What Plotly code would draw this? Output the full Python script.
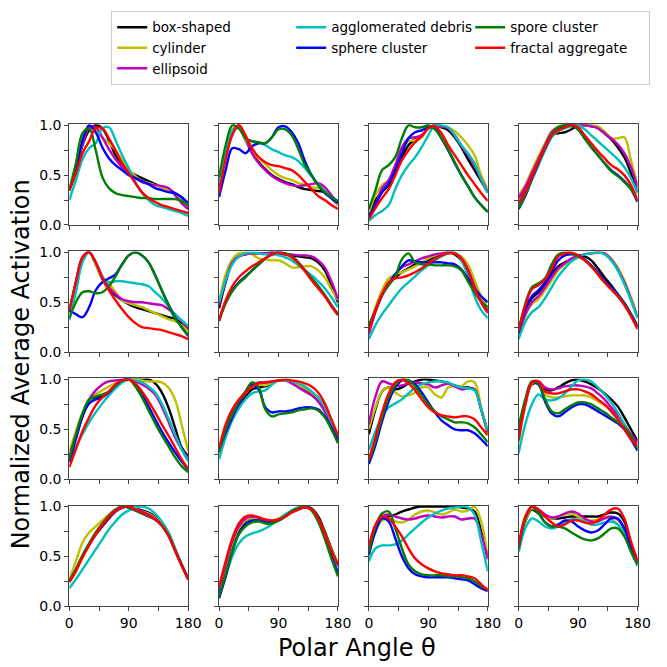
import plotly.graph_objects as go

ANGLES = list(range(0, 181, 10))

SERIES_NAMES = ["box-shaped", "cylinder", "ellipsoid", "agglomerated debris",
                "sphere cluster", "spore cluster", "fractal aggregate"]
SERIES_COLORS = ["#000000", "#bfbf00", "#bf00bf", "#00bfbf", "#0000ff", "#008000", "#ff0000"]
LEGEND_RANK = [1, 4, 7, 2, 5, 3, 6]

X_TICKS = [0, 45, 90, 135, 180]
X_TICK_TEXT = ["0", "", "90", "", "180"]
Y_TICKS = [0, 0.25, 0.5, 0.75, 1.0]
Y_TICK_TEXT = ["0.0", "", "0.5", "", "1.0"]

X_TITLE = "Polar Angle θ"
Y_TITLE = "Normalized Average Activation"

BOX_SHAPED = [
    [0.35,0.55,0.8,0.95,1.0,0.97,0.85,0.7,0.6,0.54,0.5,0.47,0.44,0.41,0.38,0.36,0.32,0.25,0.17],
    [0.38,0.72,0.95,0.99,0.85,0.72,0.63,0.56,0.5,0.46,0.43,0.41,0.38,0.36,0.35,0.34,0.33,0.27,0.2],
    [0.12,0.25,0.33,0.4,0.53,0.68,0.8,0.86,0.9,0.97,1.0,0.98,0.95,0.88,0.78,0.66,0.55,0.44,0.33],
    [0.27,0.37,0.5,0.65,0.79,0.9,0.92,0.93,0.96,1.0,1.0,0.99,0.97,0.92,0.86,0.78,0.68,0.52,0.33],
    [0.4,0.7,0.95,1.0,0.88,0.73,0.63,0.57,0.52,0.48,0.45,0.43,0.41,0.39,0.37,0.35,0.33,0.29,0.23],
    [0.44,0.7,0.9,0.96,0.98,0.99,0.99,0.99,1.0,0.99,0.98,0.97,0.96,0.95,0.94,0.9,0.82,0.67,0.5],
    [0.21,0.42,0.58,0.7,0.75,0.8,0.84,0.88,0.9,0.92,0.96,0.98,1.0,0.98,0.92,0.8,0.64,0.51,0.42],
    [0.18,0.42,0.54,0.6,0.68,0.78,0.86,0.9,0.93,0.97,0.96,0.92,0.84,0.75,0.67,0.58,0.49,0.38,0.26],
    [0.21,0.42,0.63,0.78,0.82,0.84,0.87,0.93,0.98,1.0,1.0,1.0,1.0,0.96,0.87,0.72,0.52,0.32,0.23],
    [0.28,0.48,0.62,0.73,0.83,0.9,0.92,0.93,0.96,0.99,0.99,0.97,0.94,0.9,0.86,0.8,0.7,0.57,0.42],
    [0.45,0.7,0.88,0.92,0.9,0.92,0.96,0.98,1.0,1.0,0.99,0.98,0.96,0.94,0.92,0.92,0.9,0.7,0.46],
    [0.42,0.75,0.95,0.96,0.9,0.89,0.92,0.96,0.99,1.0,0.98,0.95,0.91,0.86,0.8,0.73,0.62,0.5,0.38],
    [0.25,0.36,0.5,0.62,0.72,0.8,0.88,0.95,0.99,1.0,0.98,0.96,0.94,0.9,0.84,0.74,0.58,0.42,0.28],
    [0.15,0.35,0.58,0.75,0.85,0.89,0.88,0.85,0.84,0.86,0.9,0.95,0.98,1.0,0.98,0.9,0.75,0.58,0.42],
    [0.55,0.78,0.88,0.9,0.92,0.95,0.97,0.99,1.0,1.0,1.0,1.0,1.0,1.0,0.99,0.98,0.95,0.75,0.5],
    [0.55,0.85,0.97,0.93,0.9,0.88,0.88,0.89,0.9,0.9,0.9,0.9,0.9,0.92,0.94,0.93,0.85,0.62,0.42],
]

CYLINDER = [
    [0.35,0.55,0.82,0.98,0.95,0.88,0.82,0.75,0.65,0.56,0.49,0.44,0.42,0.4,0.38,0.35,0.31,0.24,0.16],
    [0.4,0.75,0.96,0.98,0.85,0.74,0.67,0.61,0.55,0.5,0.47,0.45,0.42,0.4,0.38,0.37,0.35,0.28,0.2],
    [0.12,0.3,0.4,0.45,0.6,0.75,0.84,0.85,0.88,0.97,1.0,0.99,0.98,0.94,0.88,0.8,0.7,0.5,0.36],
    [0.3,0.4,0.55,0.69,0.82,0.94,0.99,1.0,1.0,1.0,1.0,1.0,0.99,0.94,0.87,0.87,0.88,0.65,0.4],
    [0.4,0.7,0.95,1.0,0.88,0.74,0.69,0.6,0.52,0.49,0.47,0.45,0.42,0.39,0.36,0.33,0.31,0.27,0.21],
    [0.5,0.78,0.93,0.99,1.0,0.98,0.94,0.93,0.92,0.92,0.89,0.85,0.85,0.86,0.86,0.82,0.75,0.63,0.52],
    [0.23,0.45,0.62,0.74,0.78,0.8,0.83,0.86,0.9,0.94,0.97,0.99,1.0,0.99,0.96,0.88,0.72,0.56,0.44],
    [0.16,0.36,0.48,0.53,0.62,0.72,0.82,0.88,0.93,0.96,0.98,0.99,1.0,0.99,0.94,0.85,0.72,0.55,0.36],
    [0.28,0.48,0.66,0.77,0.85,0.89,0.93,0.96,0.98,1.0,1.0,0.99,0.98,0.98,0.97,0.92,0.8,0.55,0.28],
    [0.25,0.47,0.64,0.77,0.86,0.94,0.95,0.94,0.97,0.99,0.99,0.97,0.94,0.91,0.87,0.81,0.72,0.58,0.44],
    [0.5,0.72,0.88,0.92,0.87,0.83,0.84,0.87,0.92,0.92,0.85,0.82,0.92,0.93,0.93,0.98,0.97,0.72,0.44],
    [0.37,0.74,0.96,0.96,0.85,0.82,0.82,0.83,0.84,0.84,0.84,0.82,0.78,0.74,0.7,0.63,0.53,0.43,0.34],
    [0.27,0.45,0.64,0.74,0.8,0.86,0.92,0.97,1.0,0.99,0.97,0.95,0.93,0.89,0.83,0.73,0.58,0.42,0.28],
    [0.17,0.4,0.62,0.78,0.86,0.89,0.88,0.86,0.86,0.88,0.92,0.96,0.99,1.0,0.97,0.88,0.73,0.57,0.43],
    [0.5,0.75,0.86,0.88,0.85,0.84,0.87,0.92,0.95,0.96,0.94,0.92,0.94,0.97,0.95,0.96,1.0,0.85,0.5],
    [0.55,0.85,0.98,0.95,0.9,0.88,0.9,0.92,0.93,0.9,0.87,0.86,0.87,0.9,0.88,0.82,0.75,0.6,0.45],
]

ELLIPSOID = [
    [0.35,0.55,0.82,0.98,0.98,0.88,0.76,0.66,0.58,0.52,0.47,0.43,0.41,0.4,0.39,0.37,0.3,0.22,0.16],
    [0.38,0.7,0.93,1.0,0.88,0.72,0.62,0.55,0.49,0.45,0.42,0.4,0.39,0.4,0.41,0.42,0.38,0.3,0.22],
    [0.06,0.2,0.37,0.45,0.6,0.78,0.87,0.88,0.9,0.97,1.0,0.99,0.97,0.9,0.8,0.7,0.6,0.46,0.33],
    [0.27,0.38,0.52,0.66,0.8,0.93,0.98,1.0,1.0,1.0,1.0,0.99,0.97,0.92,0.87,0.81,0.72,0.58,0.38],
    [0.4,0.7,0.95,1.0,0.9,0.76,0.65,0.58,0.53,0.51,0.5,0.5,0.49,0.48,0.47,0.43,0.38,0.31,0.24],
    [0.47,0.72,0.9,0.96,0.98,0.99,0.99,0.99,1.0,0.99,0.98,0.98,0.97,0.97,0.96,0.92,0.85,0.71,0.53],
    [0.18,0.4,0.57,0.69,0.78,0.85,0.88,0.91,0.94,0.96,0.98,0.99,1.0,0.99,0.94,0.83,0.66,0.5,0.39],
    [0.16,0.38,0.5,0.56,0.65,0.75,0.84,0.89,0.94,0.96,0.98,0.99,1.0,0.99,0.93,0.83,0.7,0.53,0.35],
    [0.23,0.44,0.65,0.8,0.89,0.95,0.98,0.99,1.0,1.0,0.98,0.95,0.91,0.85,0.73,0.58,0.42,0.3,0.21],
    [0.27,0.5,0.66,0.78,0.87,0.94,0.97,0.97,0.98,0.99,0.99,0.96,0.92,0.88,0.84,0.78,0.68,0.55,0.41],
    [0.55,0.83,0.98,0.96,0.94,0.94,0.96,0.97,0.96,0.95,0.92,0.94,0.96,0.93,0.9,0.91,0.9,0.7,0.47],
    [0.42,0.77,0.97,0.98,0.92,0.9,0.91,0.93,0.94,0.94,0.93,0.91,0.86,0.8,0.72,0.64,0.55,0.45,0.36],
    [0.25,0.37,0.5,0.62,0.72,0.81,0.89,0.95,0.99,1.0,0.98,0.95,0.92,0.88,0.82,0.72,0.57,0.42,0.28],
    [0.17,0.42,0.65,0.8,0.88,0.9,0.89,0.86,0.85,0.86,0.9,0.94,0.97,0.99,0.97,0.88,0.72,0.55,0.4],
    [0.55,0.8,0.9,0.92,0.9,0.88,0.87,0.88,0.9,0.91,0.9,0.89,0.9,0.9,0.87,0.88,0.88,0.72,0.47],
    [0.6,0.88,1.0,0.97,0.92,0.89,0.9,0.93,0.95,0.93,0.88,0.85,0.85,0.88,0.9,0.87,0.78,0.62,0.47],
]

AGGLOMERATED_DEBRIS = [
    [0.25,0.45,0.66,0.77,0.82,0.97,0.98,0.85,0.7,0.57,0.43,0.32,0.25,0.2,0.18,0.16,0.14,0.12,0.09],
    [0.42,0.75,0.95,0.97,0.87,0.84,0.83,0.8,0.76,0.73,0.7,0.68,0.64,0.57,0.49,0.41,0.34,0.28,0.24],
    [0.04,0.1,0.14,0.2,0.36,0.5,0.6,0.68,0.78,0.9,1.0,1.0,0.98,0.9,0.8,0.72,0.62,0.46,0.32],
    [0.17,0.3,0.45,0.6,0.75,0.88,0.94,0.97,0.99,1.0,0.96,0.9,0.84,0.78,0.72,0.66,0.58,0.47,0.32],
    [0.32,0.6,0.9,1.0,0.9,0.75,0.7,0.71,0.71,0.7,0.69,0.68,0.66,0.6,0.54,0.46,0.38,0.32,0.26],
    [0.5,0.72,0.88,0.96,0.99,1.0,0.99,0.98,0.98,0.97,0.95,0.92,0.87,0.82,0.77,0.71,0.64,0.55,0.45],
    [0.13,0.27,0.38,0.47,0.56,0.64,0.7,0.76,0.82,0.87,0.92,0.96,0.99,1.0,0.92,0.77,0.56,0.42,0.34],
    [0.13,0.3,0.4,0.45,0.54,0.65,0.76,0.84,0.91,0.95,0.98,0.99,1.0,0.98,0.92,0.82,0.68,0.52,0.34],
    [0.18,0.32,0.45,0.57,0.67,0.76,0.84,0.91,0.97,1.0,0.99,0.97,0.93,0.87,0.76,0.61,0.45,0.3,0.18],
    [0.2,0.42,0.59,0.71,0.8,0.86,0.88,0.89,0.95,0.99,0.99,0.98,0.96,0.93,0.88,0.82,0.73,0.56,0.39],
    [0.29,0.48,0.63,0.72,0.76,0.8,0.86,0.92,0.95,0.97,0.98,0.98,0.97,0.94,0.92,0.91,0.89,0.7,0.49],
    [0.26,0.55,0.75,0.85,0.8,0.79,0.81,0.86,0.93,0.99,1.0,0.98,0.92,0.85,0.77,0.67,0.55,0.42,0.28],
    [0.18,0.27,0.37,0.47,0.57,0.67,0.77,0.85,0.92,0.96,0.99,1.0,0.98,0.93,0.85,0.74,0.58,0.42,0.27],
    [0.1,0.3,0.5,0.63,0.7,0.73,0.75,0.78,0.82,0.87,0.92,0.96,0.99,1.0,0.96,0.85,0.68,0.5,0.35],
    [0.45,0.58,0.61,0.61,0.62,0.66,0.72,0.78,0.84,0.89,0.93,0.96,0.98,0.99,1.0,0.99,0.92,0.65,0.35],
    [0.55,0.78,0.88,0.85,0.8,0.78,0.8,0.84,0.87,0.87,0.85,0.82,0.82,0.84,0.85,0.82,0.72,0.55,0.4],
]

SPHERE_CLUSTER = [
    [0.35,0.55,0.85,1.0,0.93,0.78,0.67,0.6,0.55,0.5,0.47,0.44,0.41,0.37,0.35,0.33,0.32,0.28,0.22],
    [0.28,0.55,0.77,0.76,0.72,0.79,0.82,0.82,0.88,0.98,0.99,0.93,0.82,0.64,0.5,0.4,0.32,0.27,0.22],
    [0.09,0.2,0.33,0.42,0.55,0.72,0.87,0.93,0.95,0.98,0.97,0.87,0.75,0.62,0.5,0.39,0.28,0.2,0.13],
    [0.16,0.29,0.46,0.62,0.77,0.9,0.97,0.99,1.0,0.96,0.87,0.78,0.7,0.62,0.55,0.5,0.44,0.36,0.23],
    [0.42,0.38,0.35,0.45,0.62,0.7,0.74,0.78,0.88,0.97,1.0,0.97,0.9,0.77,0.62,0.48,0.35,0.25,0.16],
    [0.32,0.5,0.62,0.7,0.76,0.82,0.88,0.94,0.98,1.0,0.99,0.96,0.9,0.82,0.74,0.66,0.57,0.47,0.38],
    [0.26,0.42,0.57,0.68,0.78,0.86,0.92,0.91,0.9,0.9,0.9,0.9,0.89,0.88,0.83,0.74,0.64,0.56,0.5],
    [0.19,0.44,0.56,0.62,0.7,0.81,0.92,0.97,0.98,0.97,0.93,0.87,0.8,0.72,0.65,0.58,0.49,0.38,0.26],
    [0.17,0.4,0.63,0.76,0.8,0.82,0.87,0.94,0.99,1.0,0.95,0.85,0.73,0.6,0.48,0.37,0.27,0.18,0.1],
    [0.29,0.47,0.62,0.76,0.87,0.95,0.9,0.72,0.67,0.68,0.68,0.69,0.71,0.72,0.72,0.7,0.63,0.52,0.39],
    [0.15,0.34,0.58,0.78,0.92,0.99,0.99,0.95,0.87,0.77,0.67,0.59,0.54,0.5,0.49,0.49,0.46,0.4,0.33],
    [0.5,0.78,0.97,0.95,0.78,0.66,0.63,0.67,0.72,0.75,0.75,0.72,0.68,0.64,0.6,0.56,0.5,0.4,0.29],
    [0.25,0.36,0.5,0.62,0.73,0.82,0.9,0.96,1.0,0.99,0.96,0.93,0.9,0.87,0.81,0.71,0.56,0.41,0.27],
    [0.08,0.3,0.55,0.73,0.82,0.86,0.86,0.84,0.84,0.86,0.9,0.95,0.98,1.0,0.97,0.87,0.7,0.5,0.33],
    [0.52,0.75,0.88,0.85,0.68,0.5,0.38,0.32,0.3,0.29,0.29,0.29,0.29,0.28,0.27,0.26,0.22,0.18,0.15],
    [0.58,0.88,1.0,0.94,0.84,0.8,0.82,0.86,0.85,0.8,0.76,0.74,0.76,0.82,0.88,0.88,0.78,0.6,0.44],
]

SPORE_CLUSTER = [
    [0.35,0.62,0.92,0.97,0.75,0.48,0.37,0.32,0.3,0.29,0.28,0.27,0.27,0.26,0.26,0.26,0.26,0.24,0.2],
    [0.48,0.8,1.0,0.97,0.87,0.84,0.83,0.82,0.88,0.96,0.96,0.9,0.76,0.6,0.5,0.4,0.33,0.28,0.24],
    [0.16,0.35,0.55,0.6,0.68,0.87,1.0,0.98,0.98,1.0,0.96,0.87,0.76,0.63,0.5,0.39,0.28,0.2,0.13],
    [0.17,0.3,0.47,0.63,0.78,0.91,0.98,1.0,1.0,0.96,0.87,0.78,0.7,0.62,0.54,0.49,0.43,0.36,0.24],
    [0.34,0.5,0.6,0.61,0.59,0.6,0.66,0.76,0.88,0.97,1.0,0.97,0.9,0.77,0.62,0.47,0.34,0.25,0.17],
    [0.31,0.49,0.61,0.69,0.75,0.82,0.88,0.94,0.98,1.0,0.99,0.96,0.9,0.82,0.74,0.66,0.57,0.47,0.38],
    [0.27,0.42,0.58,0.67,0.76,0.93,0.99,0.9,0.88,0.88,0.87,0.87,0.87,0.86,0.82,0.71,0.6,0.51,0.45],
    [0.21,0.48,0.65,0.69,0.74,0.88,0.98,1.0,0.99,0.96,0.92,0.86,0.78,0.7,0.63,0.57,0.48,0.37,0.24],
    [0.2,0.45,0.66,0.8,0.83,0.85,0.88,0.94,0.99,1.0,0.93,0.82,0.69,0.56,0.44,0.33,0.22,0.13,0.07],
    [0.28,0.5,0.65,0.78,0.88,0.97,0.92,0.7,0.63,0.65,0.66,0.67,0.69,0.7,0.71,0.69,0.62,0.5,0.36],
    [0.18,0.38,0.62,0.82,0.94,1.0,0.99,0.93,0.84,0.75,0.68,0.63,0.6,0.57,0.57,0.56,0.52,0.45,0.37],
    [0.52,0.8,0.98,0.96,0.8,0.68,0.66,0.7,0.74,0.77,0.77,0.75,0.71,0.67,0.62,0.57,0.52,0.43,0.31],
    [0.25,0.37,0.51,0.63,0.74,0.83,0.91,0.97,1.0,0.99,0.96,0.93,0.9,0.87,0.81,0.71,0.56,0.41,0.27],
    [0.1,0.32,0.55,0.72,0.8,0.84,0.85,0.83,0.83,0.86,0.9,0.95,0.98,1.0,0.96,0.85,0.68,0.48,0.3],
    [0.55,0.8,0.93,0.95,0.78,0.58,0.42,0.35,0.32,0.31,0.31,0.31,0.3,0.3,0.29,0.28,0.25,0.2,0.17],
    [0.58,0.88,1.0,0.93,0.84,0.8,0.8,0.78,0.74,0.7,0.67,0.66,0.68,0.73,0.78,0.78,0.7,0.55,0.42],
]

FRACTAL_AGGREGATE = [
    [0.35,0.52,0.72,0.84,0.97,0.97,0.87,0.75,0.62,0.52,0.42,0.33,0.27,0.23,0.2,0.18,0.16,0.14,0.12],
    [0.32,0.66,0.9,1.0,0.9,0.77,0.68,0.63,0.6,0.59,0.57,0.55,0.5,0.43,0.36,0.29,0.25,0.2,0.16],
    [0.06,0.17,0.27,0.36,0.5,0.65,0.75,0.83,0.89,0.97,0.99,0.92,0.8,0.7,0.6,0.5,0.41,0.32,0.24],
    [0.22,0.33,0.48,0.63,0.78,0.9,0.95,0.98,1.0,0.98,0.9,0.82,0.74,0.67,0.6,0.56,0.5,0.4,0.25],
    [0.42,0.7,0.95,1.0,0.9,0.74,0.62,0.52,0.43,0.35,0.29,0.25,0.24,0.23,0.22,0.2,0.18,0.16,0.13],
    [0.32,0.52,0.66,0.75,0.81,0.86,0.9,0.94,0.98,1.0,0.98,0.95,0.89,0.81,0.72,0.64,0.56,0.46,0.37],
    [0.21,0.42,0.58,0.7,0.74,0.75,0.77,0.8,0.84,0.89,0.93,0.97,0.99,0.99,0.94,0.82,0.64,0.5,0.4],
    [0.22,0.47,0.63,0.67,0.73,0.84,0.96,0.99,1.0,0.97,0.92,0.86,0.78,0.7,0.63,0.56,0.47,0.36,0.23],
    [0.12,0.3,0.48,0.62,0.74,0.82,0.88,0.95,0.99,1.0,0.96,0.88,0.78,0.67,0.55,0.44,0.32,0.2,0.1],
    [0.31,0.55,0.7,0.8,0.87,0.93,0.96,0.97,0.98,0.99,1.0,0.99,0.98,0.96,0.93,0.87,0.76,0.6,0.44],
    [0.2,0.42,0.67,0.86,0.97,1.0,0.96,0.89,0.8,0.72,0.67,0.64,0.63,0.62,0.63,0.63,0.6,0.52,0.44],
    [0.39,0.75,0.97,0.98,0.88,0.86,0.86,0.88,0.9,0.9,0.88,0.85,0.8,0.75,0.68,0.6,0.5,0.4,0.33],
    [0.24,0.35,0.49,0.61,0.72,0.82,0.9,0.96,1.0,1.0,0.97,0.94,0.91,0.87,0.81,0.71,0.56,0.41,0.27],
    [0.2,0.45,0.68,0.83,0.9,0.91,0.89,0.87,0.86,0.87,0.9,0.94,0.97,0.99,0.97,0.88,0.72,0.56,0.42],
    [0.6,0.82,0.9,0.88,0.8,0.7,0.58,0.48,0.42,0.38,0.35,0.33,0.32,0.31,0.31,0.3,0.28,0.22,0.16],
    [0.6,0.9,1.0,0.97,0.9,0.84,0.8,0.82,0.86,0.86,0.84,0.83,0.86,0.92,0.97,0.98,0.88,0.65,0.45],
]

SERIES_VALUES = [BOX_SHAPED, CYLINDER, ELLIPSOID, AGGLOMERATED_DEBRIS,
                 SPHERE_CLUSTER, SPORE_CLUSTER, FRACTAL_AGGREGATE]

# ---------------- layout geometry (pixels in a 667 x 667 canvas) ----------------
W = H = 667
COL_LEFT, COL_W, COL_STEP = 67, 122, 153.7
ROW_TOP, ROW_H, ROW_STEP = 120, 103, 130
FONT = "DejaVu Sans"
AXIS_COLOR = "#444444"

fig = go.Figure()
layout = {}
for p in range(16):
    r, c = divmod(p, 4)
    sfx = "" if p == 0 else str(p + 1)
    x0 = COL_LEFT + c * COL_STEP
    y0 = ROW_TOP + r * ROW_STEP
    layout["xaxis" + sfx] = dict(
        domain=[x0 / W, (x0 + COL_W) / W], range=[0, 180], anchor="y" + sfx,
        tickvals=X_TICKS, ticktext=X_TICK_TEXT, showticklabels=(r == 3),
        ticks="outside", ticklen=4, tickwidth=1, tickcolor=AXIS_COLOR,
        showline=True, linecolor=AXIS_COLOR, linewidth=1, mirror=True,
        showgrid=False, zeroline=False,
        tickfont=dict(family=FONT, size=14, color="black"),
    )
    layout["yaxis" + sfx] = dict(
        domain=[1 - (y0 + ROW_H) / H, 1 - y0 / H], range=[0, 1.01], anchor="x" + sfx,
        tickvals=Y_TICKS, ticktext=Y_TICK_TEXT, showticklabels=(c == 0),
        ticks="outside", ticklen=4, tickwidth=1, tickcolor=AXIS_COLOR,
        showline=True, linecolor=AXIS_COLOR, linewidth=1, mirror=True,
        showgrid=False, zeroline=False,
        tickfont=dict(family=FONT, size=14, color="black"),
    )
    for s, name in enumerate(SERIES_NAMES):
        fig.add_trace(go.Scatter(
            x=ANGLES, y=SERIES_VALUES[s][p], mode="lines", name=name,
            line=dict(color=SERIES_COLORS[s], width=2.4, shape="spline", smoothing=1.0),
            xaxis="x" + sfx, yaxis="y" + sfx,
            showlegend=(p == 0), legendrank=LEGEND_RANK[s], legendgroup=name,
            hoverinfo="skip",
        ))

fig.update_layout(
    **layout,
    width=W, height=H,
    margin=dict(l=0, r=0, t=0, b=0),
    paper_bgcolor="white", plot_bgcolor="white",
    font=dict(family=FONT, size=14, color="black"),
    legend=dict(
        orientation="h", x=110 / W, y=1 - 4 / H, xanchor="left", yanchor="top",
        entrywidth=134, entrywidthmode="pixels",
        bordercolor="#cccccc", borderwidth=1, bgcolor="white",
        font=dict(family=FONT, size=13.5, color="black"),
        traceorder="normal",
    ),
    annotations=[
        dict(text=Y_TITLE, x=17 / W, y=1 - 366 / H, xref="paper", yref="paper",
             textangle=-90, showarrow=False, font=dict(family=FONT, size=24, color="black"),
             xanchor="center", yanchor="middle"),
        dict(text=X_TITLE, x=362 / W, y=1 - 656 / H, xref="paper", yref="paper",
             showarrow=False, font=dict(family=FONT, size=24, color="black"),
             xanchor="center", yanchor="middle"),
    ],
)

fig.write_html("out.html", config={"displayModeBar": False},
               post_script="document.body.style.margin='0px';")
